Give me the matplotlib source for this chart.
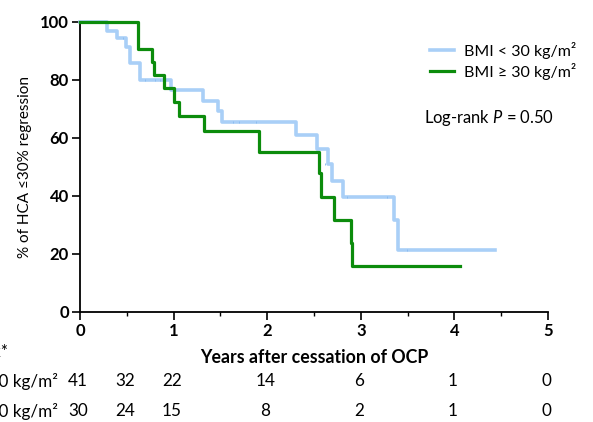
import matplotlib
matplotlib.use('Agg')
import matplotlib.pyplot as plt
from matplotlib.lines import Line2D
from matplotlib.ticker import MultipleLocator
import matplotlib.transforms as mtrans

plt.rcParams['font.family'] = ['Lato', 'DejaVu Sans']
plt.rcParams['mathtext.fontset'] = 'custom'
plt.rcParams['mathtext.rm'] = 'Lato'
plt.rcParams['mathtext.it'] = 'Lato:italic'

# data -------------------------------------------------------------------
low_t = [0, 0.29, 0.39, 0.49, 0.53, 0.64, 0.97, 1.31, 1.47, 1.52, 2.31,
         2.53, 2.65, 2.69, 2.81, 3.35, 3.40, 4.43]
low_v = [100, 97.0, 94.4, 91.5, 86.0, 80.0, 76.6, 72.9, 69.3, 65.4, 61.0,
         56.2, 51.0, 45.3, 39.8, 31.7, 21.4, 21.4]
low_cens_t = [0.46, 0.69, 0.80, 0.85, 1.63, 1.70, 1.88, 2.62, 2.85, 3.28, 3.49]
low_cens_v = [94.4, 80.0, 80.0, 80.0, 65.4, 65.4, 65.4, 51.0, 39.8, 39.8, 21.4]

high_t = [0, 0.62, 0.77, 0.79, 0.90, 1.00, 1.06, 1.32, 1.91, 2.55, 2.57,
          2.71, 2.90, 2.91, 4.06]
high_v = [100, 90.7, 86.3, 81.8, 77.1, 72.3, 67.6, 62.3, 55.3, 47.8, 39.6,
          31.7, 23.7, 15.9, 15.9]

risk_t = [0, 0.5, 1, 2, 3, 4, 5]
risk_low = [41, 32, 22, 14, 6, 1, 0]
risk_high = [30, 24, 15, 8, 2, 1, 0]

blue = '#a9cff7'
green = '#0c8c0c'

# plot -------------------------------------------------------------------
fig = plt.figure(figsize=(5.93, 4.22), dpi=100)
ax = fig.add_axes([80 / 593, 110 / 422, 468 / 593, 290 / 422])

ax.step(low_t, low_v, where='post', color=blue, lw=2.6, clip_on=False, zorder=2)
ax.plot(low_cens_t, low_cens_v, ls='none', marker='|', ms=2, mew=0.7,
        color='#8dbdf0', zorder=3)
ax.step(high_t, high_v, where='post', color=green, lw=2.3, clip_on=False, zorder=4)

ax.set_xlim(0, 5)
ax.set_ylim(0, 100)
ax.xaxis.set_major_locator(MultipleLocator(1))
ax.xaxis.set_minor_locator(MultipleLocator(0.5))
ax.yaxis.set_major_locator(MultipleLocator(20))
for s in ['top', 'right']:
    ax.spines[s].set_visible(False)
for s in ['left', 'bottom']:
    ax.spines[s].set_linewidth(1.3)
ax.tick_params(which='major', length=6, width=1.2, pad=2, labelsize=12)
ax.tick_params(which='minor', length=3, width=1.0)
for lab in ax.get_xticklabels() + ax.get_yticklabels():
    lab.set_fontweight('bold')

ax.set_ylabel('% of HCA ≤30% regression', fontsize=11, labelpad=6)
ax.set_xlabel('Years after cessation of OCP', fontsize=12.8, fontweight='bold',
              labelpad=7)

handles = [Line2D([], [], color=blue, lw=2.6), Line2D([], [], color=green, lw=2.3)]
ax.legend(handles, ['BMI < 30 kg/m²', 'BMI ≥ 30 kg/m²'], loc='upper left',
          bbox_to_anchor=(422 / 593, 1 - 34 / 422), bbox_transform=fig.transFigure,
          frameon=False, fontsize=11.5, handlelength=1.5, handletextpad=0.6,
          labelspacing=0.25, borderpad=0)

fig.text(424 / 593, 1 - 118 / 422, 'Log-rank $P$ = 0.50', fontsize=11.9,
         va='center', ha='left')

# numbers at risk
trans = mtrans.blended_transform_factory(ax.transData, fig.transFigure)
for t, a, b in zip(risk_t, risk_low, risk_high):
    ax.text(t - 0.02, 1 - 381 / 422, str(a), transform=trans, ha='center',
            va='center', fontsize=12.3, clip_on=False)
    ax.text(t - 0.02, 1 - 411 / 422, str(b), transform=trans, ha='center',
            va='center', fontsize=12.3, clip_on=False)
fig.text(8 / 593, 1 - 352 / 422, 'Number at risk*', ha='right', va='center',
         fontsize=12.3)
fig.text(58 / 593, 1 - 381 / 422, 'BMI < 30 kg/m²', ha='right', va='center',
         fontsize=12.3)
fig.text(58 / 593, 1 - 411 / 422, 'BMI ≥ 30 kg/m²', ha='right', va='center',
         fontsize=12.3)

fig.savefig('out.png', dpi=100)
